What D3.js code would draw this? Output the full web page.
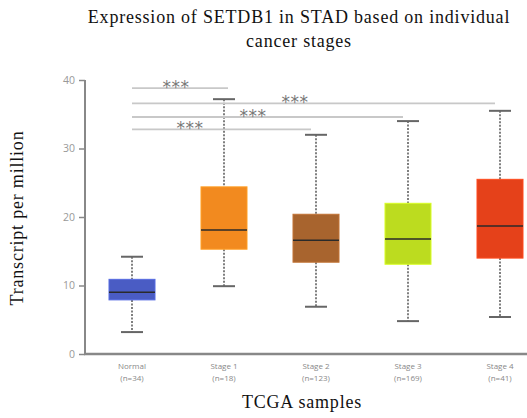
<!DOCTYPE html>
<html>
<head>
<meta charset="utf-8">
<script src="https://cdn.jsdelivr.net/npm/d3@7"></script>
<style>
  body { margin: 0; background: #fff; }
  .title, .axis-title { font-family: "Liberation Serif", "DejaVu Serif", serif; fill: #111; letter-spacing: 0.8px; }
  .tick-label { font-family: "Open Sans", "DejaVu Sans", sans-serif; fill: #999; }
</style>
</head>
<body>
<svg id="chart" width="527" height="418"></svg>
<script>
const categories = ['Normal', 'Stage1', 'Stage2', 'Stage3', 'Stage4'];
const counts = [34, 18, 123, 169, 41];
const whiskerLow = [3.2, 9.9, 6.9, 4.8, 5.4];
const q1 = [7.9, 15.3, 13.4, 13.1, 14.0];
const median = [9.0, 18.1, 16.6, 16.8, 18.7];
const q3 = [10.9, 24.4, 20.4, 22.0, 25.5];
const whiskerHigh = [14.2, 37.2, 32.0, 34.0, 35.5];
const colors = ['#4a5cc4', '#f28a1f', '#a8642e', '#bcdc1f', '#e5411a'];
const yTicks = [0, 10, 20, 30, 40];

// Normal vs each stage, line level in data units, in drawing order
const compareTo = ['Stage1', 'Stage4', 'Stage3', 'Stage2'];
const compareLevel = [38.8, 36.6, 34.6, 32.8];
const compareLabel = ['***', '***', '***', '***'];

const svg = d3.select("svg#chart");

// Scales

const y = d3.scaleLinear()
    .domain([0, 40])
    .range([354, 80]);

const x = d3.scalePoint()
    .domain(categories)
    .range([132, 500]);

const boxW = 46;

// Title

svg.append("text")
    .attr("class", "title")
    .attr("x", 299)
    .attr("y", 23)
    .attr("text-anchor", "middle")
    .style("font-size", "18px")
    .text("Expression of SETDB1 in STAD based on individual");

svg.append("text")
    .attr("class", "title")
    .attr("x", 299)
    .attr("y", 47)
    .attr("text-anchor", "middle")
    .style("font-size", "18px")
    .text("cancer stages");

// Axis titles

svg.append("text")
    .attr("class", "axis-title")
    .attr("transform", "translate(23,218) rotate(-90)")
    .attr("text-anchor", "middle")
    .style("font-size", "18px")
    .text("Transcript per million");

svg.append("text")
    .attr("class", "axis-title")
    .attr("x", 302)
    .attr("y", 408)
    .attr("text-anchor", "middle")
    .style("font-size", "18px")
    .text("TCGA samples");

// Y axis

const yAxis = svg.append("g")
    .attr("transform", "translate(85,0)")
    .call(d3.axisLeft(y).tickValues(yTicks).tickSize(6).tickPadding(4));

yAxis.select(".domain").attr("stroke", "#888").attr("stroke-width", 2)
    .attr("d", `M0,${y(40)}V${y(0) + 1}`);
yAxis.selectAll(".tick line").attr("stroke", "#888").attr("stroke-width", 1.5);
yAxis.selectAll(".tick text")
    .attr("class", "tick-label")
    .style("font-size", "10.5px")
    .style("fill", "#999");

// X axis line

svg.append("line")
    .attr("x1", 84)
    .attr("x2", 527)
    .attr("y1", y(0))
    .attr("y2", y(0))
    .attr("stroke", "#888")
    .attr("stroke-width", 2.5);

// Category labels

categories.forEach((c, i) => {
    const t = svg.append("text")
        .attr("class", "tick-label")
        .attr("x", x(c))
        .attr("y", 369)
        .attr("text-anchor", "middle")
        .style("font-size", "8px")
        .style("fill", "#888");
    t.append("tspan").attr("x", x(c)).text(c.replace("Stage", "Stage "));
    t.append("tspan").attr("x", x(c)).attr("dy", 12).text(`(n=${counts[i]})`);
});

// Boxes

categories.forEach((c, i) => {
    const cx = x(c);
    const g = svg.append("g");

    // whiskers (dashed)
    g.append("line")
        .attr("x1", cx).attr("x2", cx)
        .attr("y1", y(whiskerHigh[i])).attr("y2", y(q3[i]))
        .attr("stroke", "#555").attr("stroke-width", 1.5)
        .attr("stroke-dasharray", "2,1.5");
    g.append("line")
        .attr("x1", cx).attr("x2", cx)
        .attr("y1", y(q1[i])).attr("y2", y(whiskerLow[i]))
        .attr("stroke", "#555").attr("stroke-width", 1.5)
        .attr("stroke-dasharray", "2,1.5");

    // whisker caps
    [whiskerHigh[i], whiskerLow[i]].forEach(v => {
        g.append("line")
            .attr("x1", cx - 11).attr("x2", cx + 11)
            .attr("y1", y(v)).attr("y2", y(v))
            .attr("stroke", "#666").attr("stroke-width", 2);
    });

    // box
    g.append("rect")
        .attr("x", cx - boxW / 2)
        .attr("y", y(q3[i]))
        .attr("width", boxW)
        .attr("height", y(q1[i]) - y(q3[i]))
        .attr("fill", colors[i])
        .attr("stroke", d3.color(colors[i]).brighter(0.4))
        .attr("stroke-width", 1);

    // median
    g.append("line")
        .attr("x1", cx - boxW / 2).attr("x2", cx + boxW / 2)
        .attr("y1", y(median[i])).attr("y2", y(median[i]))
        .attr("stroke", "#2a2a2a").attr("stroke-width", 1.5);
});

// Significance lines

const starX = [176, 295, 253, 190];

compareTo.forEach((to, i) => {
    const x1 = x('Normal');
    const x2 = x(to) + (to === 'Stage1' ? 4 : -5);
    svg.append("line")
        .attr("x1", x1).attr("x2", x2)
        .attr("y1", y(compareLevel[i])).attr("y2", y(compareLevel[i]))
        .attr("stroke", "#c8c8c8").attr("stroke-width", 1.8);

    svg.append("text")
        .attr("x", starX[i])
        .attr("y", y(compareLevel[i]) + 5)
        .attr("text-anchor", "middle")
        .style("font-family", "DejaVu Sans, sans-serif")
        .style("font-size", "17px")
        .style("fill", "#777")
        .style("letter-spacing", "0.5px")
        .text(compareLabel[i]);
});
</script>
</body>
</html>
